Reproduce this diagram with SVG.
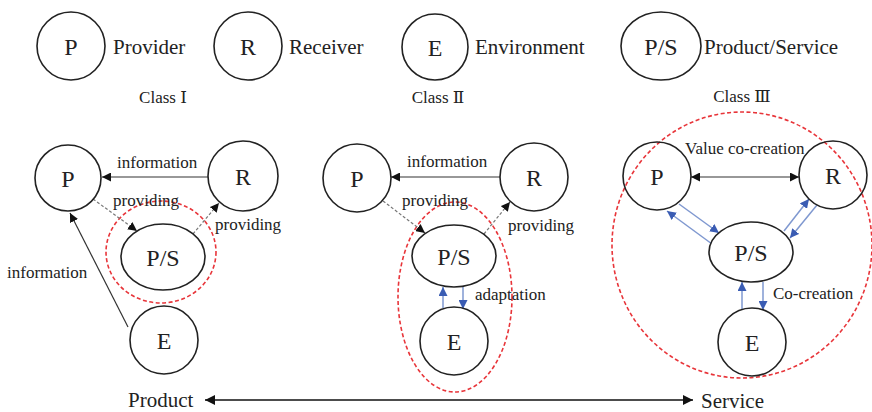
<svg xmlns="http://www.w3.org/2000/svg" width="872" height="412" viewBox="0 0 872 412">
<defs>
<style>
text{font-family:"Liberation Serif","Times New Roman",Times,"DejaVu Serif",serif;fill:#222;}
.node{fill:#fff;stroke:#222;stroke-width:1.6;}
.nl{font-size:24px;text-anchor:middle;}
.leg{font-size:21px;}
.cls{font-size:17px;text-anchor:middle;}
.lab{font-size:17px;}
.big{font-size:21px;}
.info{stroke:#333;stroke-width:1.2;fill:none;}
.dash{stroke:#777;stroke-width:1.2;stroke-dasharray:3 2;fill:none;}
.blue{stroke:#7f98d0;stroke-width:1.5;fill:none;}
.red{fill:none;stroke:#e8353a;stroke-width:1.6;stroke-dasharray:4 2.5;}
.axis{stroke:#111;stroke-width:1.6;fill:none;}
</style>
<marker id="ah" viewBox="0 0 10 10" refX="10" refY="5" markerWidth="9" markerHeight="9" markerUnits="userSpaceOnUse" orient="auto-start-reverse"><path d="M0,0 L10,5 L0,10 z" fill="#111"/></marker>
<marker id="ab" viewBox="0 0 10 10" refX="10" refY="5" markerWidth="9" markerHeight="9" markerUnits="userSpaceOnUse" orient="auto-start-reverse"><path d="M0,0 L10,5 L0,10 z" fill="#3a5cb3"/></marker>
<marker id="abig" viewBox="0 0 10 10" refX="10" refY="5" markerWidth="11" markerHeight="10" markerUnits="userSpaceOnUse" orient="auto-start-reverse"><path d="M0,0 L10,5 L0,10 z" fill="#111"/></marker>
</defs>
<rect width="872" height="412" fill="#fff"/>

<!-- Legend -->
<g id="legend-P"><circle class="node" cx="71" cy="46" r="34"/><text class="nl" x="71" y="55">P</text><text class="leg" x="113" y="54">Provider</text></g>
<g id="legend-R"><circle class="node" cx="248" cy="46" r="34"/><text class="nl" x="248" y="55">R</text><text class="leg" x="289" y="54">Receiver</text></g>
<g id="legend-E"><circle class="node" cx="435" cy="47" r="33"/><text class="nl" x="435" y="56">E</text><text class="leg" x="475" y="54">Environment</text></g>
<g id="legend-PS"><ellipse class="node" cx="661" cy="46" rx="40" ry="34"/><text class="nl" x="661" y="55">P/S</text><text class="leg" x="704" y="54">Product/Service</text></g>

<g id="class-labels">
<text class="cls" x="163" y="103">Class Ⅰ</text>
<text class="cls" x="438" y="103">Class Ⅱ</text>
<text class="cls" x="742" y="102">Class Ⅲ</text>
</g>

<!-- red groupings -->
<g id="groups">
<ellipse class="red" cx="161" cy="252" rx="55" ry="51"/>
<ellipse class="red" cx="455" cy="297" rx="57" ry="95"/>
<ellipse class="red" cx="742" cy="245" rx="130" ry="133"/>
</g>

<!-- Connectors -->
<g id="connectors">
<line class="info" x1="208" y1="177" x2="102" y2="177" marker-end="url(#ah)"/>
<line class="dash" x1="93" y1="199" x2="137" y2="231" marker-end="url(#ah)"/>
<line class="dash" x1="193" y1="234" x2="219" y2="203" marker-end="url(#ah)"/>
<line class="info" x1="128" y1="327" x2="70" y2="213" marker-end="url(#ah)"/>
<line class="info" x1="500" y1="177" x2="391" y2="177" marker-end="url(#ah)"/>
<line class="dash" x1="383" y1="201" x2="425" y2="233" marker-end="url(#ah)"/>
<line class="dash" x1="484" y1="234" x2="510" y2="202" marker-end="url(#ah)"/>
<line class="blue" x1="443" y1="308" x2="443" y2="287" marker-end="url(#ab)"/>
<line class="blue" x1="463" y1="287" x2="463" y2="309" marker-end="url(#ab)"/>
<line class="info" x1="691" y1="177" x2="799" y2="177" marker-start="url(#ah)" marker-end="url(#ah)"/>
<line class="blue" x1="712" y1="244" x2="667" y2="211" marker-end="url(#ab)"/>
<line class="blue" x1="679" y1="204" x2="719" y2="233" marker-end="url(#ab)"/>
<line class="blue" x1="784" y1="231" x2="809" y2="199" marker-end="url(#ab)"/>
<line class="blue" x1="817" y1="205" x2="790" y2="238" marker-end="url(#ab)"/>
<line class="blue" x1="742" y1="309" x2="742" y2="282" marker-end="url(#ab)"/>
<line class="blue" x1="763" y1="282" x2="763" y2="310" marker-end="url(#ab)"/>
<line class="axis" x1="205" y1="400" x2="693" y2="400" marker-start="url(#abig)" marker-end="url(#abig)"/>
</g>

<g id="connector-labels">
<text class="lab" x="117" y="168">information</text>
<text class="lab" x="113" y="206">providing</text>
<text class="lab" x="215" y="230">providing</text>
<text class="lab" x="7" y="278">information</text>
<text class="lab" x="407" y="167">information</text>
<text class="lab" x="402" y="206">providing</text>
<text class="lab" x="508" y="231">providing</text>
<text class="lab" x="475" y="300">adaptation</text>
<text class="lab" x="685" y="154">Value co-creation</text>
<text class="lab" x="773" y="299">Co-creation</text>
</g>

<g id="c1-P"><circle class="node" cx="68" cy="178" r="33"/><text class="nl" x="68" y="187">P</text></g>
<g id="c1-R"><circle class="node" cx="243" cy="176" r="35"/><text class="nl" x="243" y="185">R</text></g>
<g id="c1-PS"><ellipse class="node" cx="163" cy="257" rx="42" ry="33"/><text class="nl" x="163" y="266">P/S</text></g>
<g id="c1-E"><circle class="node" cx="164" cy="340" r="34"/><text class="nl" x="164" y="349">E</text></g>

<g id="c2-P"><circle class="node" cx="357" cy="178" r="34"/><text class="nl" x="357" y="187">P</text></g>
<g id="c2-R"><circle class="node" cx="534" cy="177" r="34"/><text class="nl" x="534" y="186">R</text></g>
<g id="c2-PS"><ellipse class="node" cx="454" cy="256" rx="42" ry="31"/><text class="nl" x="454" y="265">P/S</text></g>
<g id="c2-E"><circle class="node" cx="454" cy="341" r="34"/><text class="nl" x="454" y="350">E</text></g>

<g id="c3-P"><circle class="node" cx="657" cy="176" r="34" fill-opacity="0"/><text class="nl" x="657" y="185">P</text></g>
<g id="c3-R"><circle class="node" cx="833" cy="175" r="34" fill-opacity="0"/><text class="nl" x="833" y="184">R</text></g>
<g id="c3-PS"><ellipse class="node" cx="751" cy="252" rx="42" ry="30"/><text class="nl" x="751" y="261">P/S</text></g>
<g id="c3-E"><circle class="node" cx="752" cy="342" r="34"/><text class="nl" x="752" y="351">E</text></g>

<g id="axis-labels">
<text class="big" x="128" y="407">Product</text>
<text class="big" x="701" y="408">Service</text>
</g>
</svg>
